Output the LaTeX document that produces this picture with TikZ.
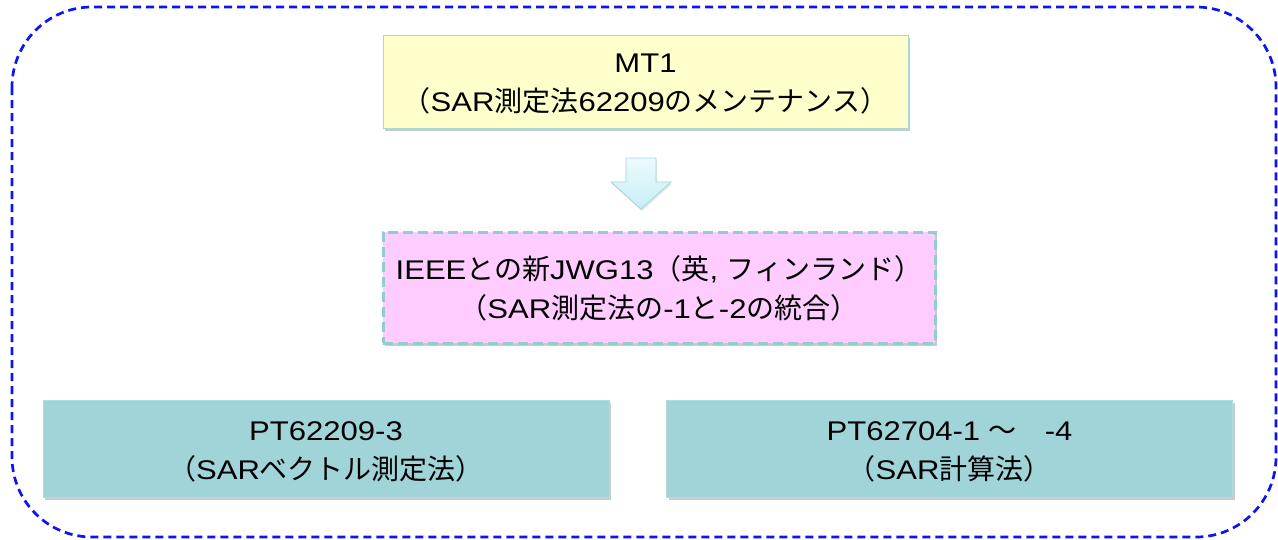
\documentclass[tikz,border=0pt]{standalone}
\usepackage{fontspec}
\setmainfont[FakeStretch=1.15]{Liberation Sans}
\newfontfamily\jp[Scale=1.037]{Noto Sans CJK JP}
\usetikzlibrary{shadows}
\definecolor{outerblue}{RGB}{10,20,245}
\definecolor{mtfill}{RGB}{255,255,204}
\definecolor{mtdraw}{RGB}{170,215,215}
\definecolor{jwgfill}{RGB}{255,204,255}
\definecolor{jwgdraw}{RGB}{145,205,205}
\definecolor{ptfill}{RGB}{161,212,216}
\definecolor{ptdraw}{RGB}{175,220,222}
\definecolor{arrtop}{RGB}{235,251,253}
\definecolor{arrbot}{RGB}{200,238,244}
\definecolor{arrdraw}{RGB}{165,214,220}
\tikzset{
  boxtext/.style={align=center, font=\fontsize{27}{39}\selectfont, text=black, inner sep=0pt},
  shadowed/.style={drop shadow={shadow xshift=2pt, shadow yshift=-3pt, opacity=0.35, fill=black!60}},
  mtbox/.style={shadowed, fill=mtfill, draw=mtdraw, line width=1pt, minimum width=525, minimum height=93},
  jwgbox/.style={shadowed, fill=jwgfill, draw=jwgdraw, line width=3pt, dash pattern=on 10pt off 5pt, minimum width=552, minimum height=111},
  ptbox/.style={shadowed, fill=ptfill, draw=ptdraw, line width=1pt, minimum width=566, minimum height=97},
  outerline/.style={draw=outerblue, line width=2.7pt, dash pattern=on 8pt off 5pt, rounded corners=80},
  blockarrow/.style={top color=arrtop, bottom color=arrbot, draw=arrdraw, line width=0.8pt, drop shadow={shadow xshift=1pt, shadow yshift=-2pt, opacity=0.2, fill=black!50}}
}
\newcommand{\J}[1]{{\jp #1}}
\begin{document}
\begin{tikzpicture}[x=1pt,y=-1pt]
\useasboundingbox (0,0) rectangle (1278,539);
\draw[outerline] (12,7) rectangle (1276,537);

\node[mtbox] (mt) at (645.5,81.5) {};
\node[boxtext] (mttext) at ([yshift=-3pt]mt.center) {MT1\\\J{（}SAR\J{測定法}62209\J{のメンテナンス）}};

\node[jwgbox] (jwg) at (659,287.5) {};
\node[boxtext] (jwgtext) at ([yshift=-1pt]jwg.center) {IEEE\J{との新}JWG13\J{（英}, \J{フィンランド）}\\\J{（}SAR\J{測定法の}-1\J{と}-2\J{の統合）}};

\node[ptbox] (pt1) at (326,448.5) {};
\node[boxtext] (pt1text) at ([yshift=-3pt]pt1.center) {PT62209-3\\\J{（}SAR\J{ベクトル測定法）}};

\node[ptbox] (pt2) at (949.5,448.5) {};
\node[boxtext] (pt2text) at ([yshift=-3pt]pt2.center) {PT62704-1 \J{～　}-4\\\J{（}SAR\J{計算法）}};

\coordinate (arr) at (641,158);
\path[blockarrow] (arr) ++(-15,0) -- ++(30,0) -- ++(0,24) -- ++(15,0)
  -- ++(-30,27) -- ++(-30,-27) -- ++(15,0) -- cycle;
\end{tikzpicture}
\end{document}
